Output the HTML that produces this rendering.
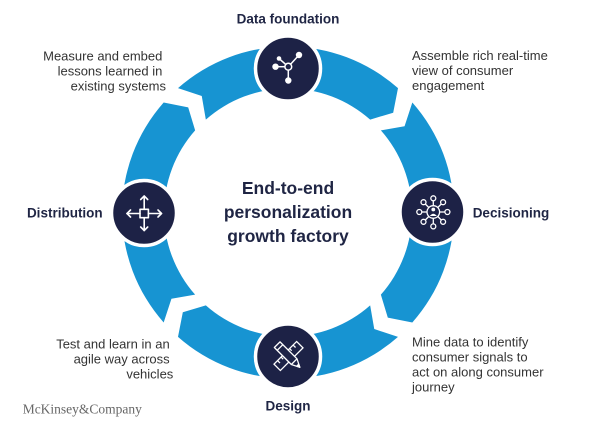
<!DOCTYPE html>
<html>
<head>
<meta charset="utf-8">
<style>
  html, body { margin:0; padding:0; background:#ffffff; }
  body { width:600px; height:441px; overflow:hidden; }
  svg { display:block; }
  .lbl { font-family:"Liberation Sans", Arial, sans-serif; font-weight:bold; font-size:13.5px; fill:#1f2544; }
  .ttl { font-family:"Liberation Sans", Arial, sans-serif; font-weight:bold; font-size:17.5px; fill:#1f2544; }
  .dsc { font-family:"Liberation Sans", Arial, sans-serif; font-size:13px; fill:#333333; }
  .logo { font-family:"Liberation Serif", "Times New Roman", serif; font-size:13.5px; fill:#666666; }
</style>
</head>
<body>
<svg width="600" height="441" viewBox="0 0 600 441" xmlns="http://www.w3.org/2000/svg">
  <rect x="0" y="0" width="600" height="441" fill="#ffffff"/>

  <!-- Ring pieces -->
  <g fill="#1794d2">
    <path d="M412.33,102.50 A166,166 0 0 1 412.33,322.50 L387.81,317.68 L380.87,294.66 A124,124 0 0 0 380.87,130.34 L404.56,126.25 Z"/>
    <path d="M412.33,102.50 A166,166 0 0 1 412.33,322.50 L387.81,317.68 L380.87,294.66 A124,124 0 0 0 380.87,130.34 L404.56,126.25 Z" transform="rotate(90 288 212.5)"/>
    <path d="M412.33,102.50 A166,166 0 0 1 412.33,322.50 L387.81,317.68 L380.87,294.66 A124,124 0 0 0 380.87,130.34 L404.56,126.25 Z" transform="rotate(180 288 212.5)"/>
    <path d="M412.33,102.50 A166,166 0 0 1 412.33,322.50 L387.81,317.68 L380.87,294.66 A124,124 0 0 0 380.87,130.34 L404.56,126.25 Z" transform="rotate(270 288 212.5)"/>
  </g>

  <!-- Nodes -->
  <g fill="#1d2246" stroke="#ffffff" stroke-width="3.5">
    <circle cx="288" cy="68.5" r="32.5"/>
    <circle cx="432.5" cy="212" r="32.5"/>
    <circle cx="288" cy="356.5" r="32.5"/>
    <circle cx="144" cy="213" r="32.5"/>
  </g>

  <!-- Data foundation icon -->
  <g stroke="#ffffff" stroke-width="1.5" fill="#ffffff">
    <line x1="288.3" y1="66.7" x2="299" y2="55"/>
    <line x1="288.3" y1="66.7" x2="275.5" y2="66.7"/>
    <line x1="288.3" y1="66.7" x2="279" y2="58.5"/>
    <line x1="288.3" y1="66.7" x2="288.3" y2="80.5"/>
    <circle cx="299" cy="55" r="3.2" stroke="none"/>
    <circle cx="275.5" cy="66.7" r="3.2" stroke="none"/>
    <circle cx="279" cy="58.5" r="2.3" stroke="none"/>
    <circle cx="288.3" cy="80.5" r="3.2" stroke="none"/>
    <circle cx="288.3" cy="66.7" r="3.4" fill="#1d2246"/>
  </g>

  <!-- Decisioning icon -->
  <g stroke="#ffffff" stroke-width="1.3" fill="none">
    <circle cx="433.3" cy="212" r="6.3"/>
    <line x1="433.3" y1="205.7" x2="433.3" y2="200.8"/>
    <line x1="433.3" y1="218.3" x2="433.3" y2="223.9"/>
    <line x1="427" y1="212" x2="421.9" y2="212"/>
    <line x1="439.6" y1="212" x2="444.8" y2="212"/>
    <line x1="428.8" y1="207.5" x2="425.3" y2="204"/>
    <line x1="437.8" y1="207.5" x2="441.3" y2="204"/>
    <line x1="428.8" y1="216.5" x2="425.3" y2="220"/>
    <line x1="437.8" y1="216.5" x2="441.3" y2="220"/>
    <circle cx="433.3" cy="198.3" r="2.5"/>
    <circle cx="433.3" cy="226.4" r="2.5"/>
    <circle cx="419.3" cy="212" r="2.5"/>
    <circle cx="447.4" cy="212" r="2.5"/>
    <circle cx="423.5" cy="202.2" r="2.5"/>
    <circle cx="443.1" cy="202.2" r="2.5"/>
    <circle cx="423.5" cy="221.8" r="2.5"/>
    <circle cx="443.1" cy="221.8" r="2.5"/>
    <circle cx="433.3" cy="209.5" r="1.9" fill="#ffffff" stroke="none"/>
    <path d="M429.8,216 Q433.3,211.5 436.8,216 Z" fill="#ffffff" stroke="none"/>
  </g>

  <!-- Distribution icon -->
  <g stroke="#ffffff" stroke-width="1.6" fill="none" stroke-linecap="round" stroke-linejoin="round">
    <rect x="140" y="209.3" width="8.4" height="8.4"/>
    <line x1="144.2" y1="209.3" x2="144.2" y2="196"/>
    <polyline points="140.7,199.5 144.2,196 147.7,199.5"/>
    <line x1="144.2" y1="217.7" x2="144.2" y2="230.5"/>
    <polyline points="140.7,227 144.2,230.5 147.7,227"/>
    <line x1="140" y1="213.5" x2="127" y2="213.5"/>
    <polyline points="130.5,210 127,213.5 130.5,217"/>
    <line x1="148.4" y1="213.5" x2="161.5" y2="213.5"/>
    <polyline points="158,210 161.5,213.5 158,217"/>
  </g>

  <!-- Design icon -->
  <g transform="translate(288.5 356) rotate(-45)" stroke="#ffffff" stroke-width="1.3" fill="#1d2246">
    <rect x="-16" y="-4.5" width="32" height="9"/>
    <line x1="-11" y1="-4.5" x2="-11" y2="-1"/>
    <line x1="-6" y1="-4.5" x2="-6" y2="-1.5"/>
    <line x1="6" y1="-4.5" x2="6" y2="-1.5"/>
    <line x1="11" y1="-4.5" x2="11" y2="-1"/>
  </g>
  <g transform="translate(288.5 356) rotate(45)" stroke="#ffffff" stroke-width="1.3" fill="#1d2246" stroke-linejoin="round">
    <path d="M-16,-4 L8,-4 L16,0 L8,4 L-16,4 Z"/>
    <line x1="-12" y1="-4" x2="-12" y2="4"/>
    <line x1="8" y1="-4" x2="8" y2="4"/>
    <path d="M13,-1.4 L16,0 L13,1.4 Z" fill="#ffffff"/>
  </g>

  <!-- Node labels -->
  <text class="lbl" x="288" y="23.3" text-anchor="middle">Data foundation</text>
  <text class="lbl" x="472.7" y="217.3">Decisioning</text>
  <text class="lbl" x="102.7" y="217.7" text-anchor="end">Distribution</text>
  <text class="lbl" x="288" y="410.7" text-anchor="middle">Design</text>

  <!-- Center title -->
  <text class="ttl" x="288" y="194" text-anchor="middle">End-to-end</text>
  <text class="ttl" x="288" y="218" text-anchor="middle">personalization</text>
  <text class="ttl" x="288" y="242" text-anchor="middle">growth factory</text>

  <!-- Descriptions -->
  <text class="dsc" text-anchor="end">
    <tspan x="166" y="60.5">Measure and embed</tspan>
    <tspan x="166" y="75.5">lessons learned in</tspan>
    <tspan x="166" y="90.5">existing systems</tspan>
  </text>
  <text class="dsc">
    <tspan x="412" y="60">Assemble rich real-time</tspan>
    <tspan x="412" y="75">view of consumer</tspan>
    <tspan x="412" y="90">engagement</tspan>
  </text>
  <text class="dsc">
    <tspan x="412" y="346.7">Mine data to identify</tspan>
    <tspan x="412" y="361.7">consumer signals to</tspan>
    <tspan x="412" y="376.7">act on along consumer</tspan>
    <tspan x="412" y="391.7">journey</tspan>
  </text>
  <text class="dsc" text-anchor="end">
    <tspan x="173.3" y="348.3">Test and learn in an</tspan>
    <tspan x="173.3" y="363.3">agile way across</tspan>
    <tspan x="173.3" y="378.3">vehicles</tspan>
  </text>

  <!-- Logo -->
  <text class="logo" x="22.7" y="413.3">McKinsey&amp;Company</text>
</svg>
</body>
</html>
